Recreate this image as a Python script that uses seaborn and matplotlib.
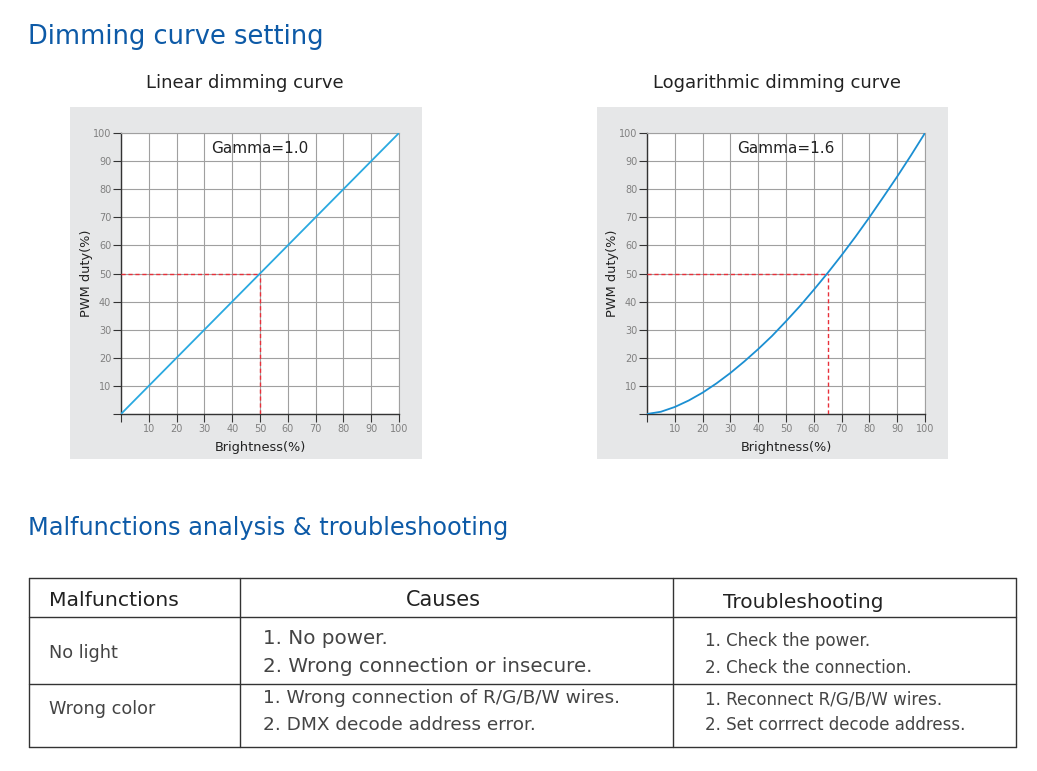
import numpy as np
import pandas as pd
import matplotlib.pyplot as plt
import seaborn as sns
from matplotlib.patches import Rectangle

# brightness (%) and PWM duty (%)
brightness = [0, 5, 10, 15, 20, 25, 30, 35, 40, 45, 50, 55, 60, 65, 70, 75, 80, 85, 90, 95, 100]
linear_duty = [0, 5, 10, 15, 20, 25, 30, 35, 40, 45, 50, 55, 60, 65, 70, 75, 80, 85, 90, 95, 100]
log_duty = [0, 0.8, 2.5, 4.8, 7.6, 10.9, 14.6, 18.7, 23.1, 27.8, 33.0, 38.4,
            44.2, 50.2, 56.5, 63.1, 70.0, 77.2, 84.5, 92.1, 100]
ticks = [0, 10, 20, 30, 40, 50, 60, 70, 80, 90, 100]
tick_labels = [''] + [str(t) for t in ticks[1:]]

charts = [
    {'title': 'Linear dimming curve', 'gamma': 'Gamma=1.0', 'y': linear_duty, 'tx': 245,
     'mark': 50, 'color': '#2aa9e0', 'box': (70, 107, 352, 352), 'ax': (121, 133, 278, 281)},
    {'title': 'Logarithmic dimming curve', 'gamma': 'Gamma=1.6', 'y': log_duty, 'tx': 777,
     'mark': 65, 'color': '#1b8fd2', 'box': (597, 107, 351, 352), 'ax': (647, 133, 278, 281)},
]

table_header = ['Malfunctions', 'Causes', 'Troubleshooting']
malfunctions = ['No light', 'Wrong color']
causes = [['1. No power.', '2. Wrong connection or insecure.'],
          ['1. Wrong connection of R/G/B/W wires.', '2. DMX decode address error.']]
fixes = [['1. Check the power.', '2. Check the connection.'],
         ['1. Reconnect R/G/B/W wires.', '2. Set corrrect decode address.']]

sns.set_theme(style="white")
plt.rcParams['font.family'] = ['DejaVu Sans']

W, H = 1037, 771
fig = plt.figure(figsize=(W / 100, H / 100), dpi=100)
bg = fig.add_axes([0, 0, 1, 1])
bg.set_xlim(0, W)
bg.set_ylim(H, 0)
bg.axis('off')

title_blue = '#0d5aa7'
bg.text(28, 37, 'Dimming curve setting', fontsize=18.5, color=title_blue, va='center')
bg.text(28, 528, 'Malfunctions analysis & troubleshooting', fontsize=17.3, color=title_blue, va='center')

for cfg in charts:
    bx, by, bw, bh = cfg['box']
    bg.add_patch(Rectangle((bx, by), bw, bh, facecolor='#e6e7e8', edgecolor='none'))
    ax_l, ax_t, ax_w, ax_h = cfg['ax']
    bg.text(cfg['tx'], 83, cfg['title'], fontsize=13, color='#222222',
            ha='center', va='center')

    ax = fig.add_axes([ax_l / W, (H - ax_t - ax_h) / H, ax_w / W, ax_h / H])
    ax.set_facecolor('white')
    df = pd.DataFrame({'Brightness': brightness, 'Duty': cfg['y']})
    sns.lineplot(data=df, x='Brightness', y='Duty', ax=ax, color=cfg['color'], lw=1.3, zorder=4)
    m = cfg['mark']
    ax.plot([0, m], [50, 50], color='#e8303a', lw=1, ls=(0, (3, 2)), zorder=3)
    ax.plot([m, m], [0, 50], color='#e8303a', lw=1, ls=(0, (3, 2)), zorder=3)
    ax.text(50, 94.5, cfg['gamma'], fontsize=11, color='#222222', ha='center', va='center', zorder=5)

    ax.set_xlim(0, 100)
    ax.set_ylim(0, 100)
    ax.set_xticks(ticks)
    ax.set_yticks(ticks)
    ax.set_xticklabels(tick_labels)
    ax.set_yticklabels(tick_labels)
    ax.grid(True, color='#a0a0a0', lw=0.8)
    ax.tick_params(axis='both', direction='out', length=6, width=0.8, color='#333333',
                   labelsize=7, labelcolor='#808080', pad=1, left=True, bottom=True)
    for s in ['top', 'right']:
        ax.spines[s].set_color('#a0a0a0')
        ax.spines[s].set_linewidth(0.8)
    for s in ['left', 'bottom']:
        ax.spines[s].set_color('#333333')
        ax.spines[s].set_linewidth(1)
    ax.set_xlabel('Brightness(%)', fontsize=9.3, color='#222222', labelpad=5)
    ax.set_ylabel('PWM duty(%)', fontsize=9.3, color='#222222', labelpad=0)

# troubleshooting table
tl, tr = 29, 1016
rows_y = [578, 617, 684, 747]
cols_x = [240, 673]
for y in rows_y:
    bg.plot([tl, tr], [y, y], color='#333333', lw=1)
for x in [tl, tr] + cols_x:
    bg.plot([x, x], [rows_y[0], rows_y[-1]], color='#333333', lw=1)

bg.text(49, 601, table_header[0], fontsize=14.7, color='#222222', va='center')
bg.text(443, 600, table_header[1], fontsize=15, color='#222222', va='center', ha='center')
bg.text(723, 602, table_header[2], fontsize=14.5, color='#222222', va='center')

txt = '#444444'
row_mid = [653, 709]
cause_y = [[638, 666], [698, 725]]
fix_y = [[641, 668], [699, 725]]
for i in range(2):
    bg.text(49, row_mid[i], malfunctions[i], fontsize=12.7, color=txt, va='center')
    for j in range(2):
        bg.text(263, cause_y[i][j], causes[i][j], fontsize=14.3 if i == 0 else 13.3,
                color=txt, va='center')
        bg.text(705, fix_y[i][j], fixes[i][j], fontsize=12, color=txt, va='center')

fig.savefig('out.png', dpi=100)
